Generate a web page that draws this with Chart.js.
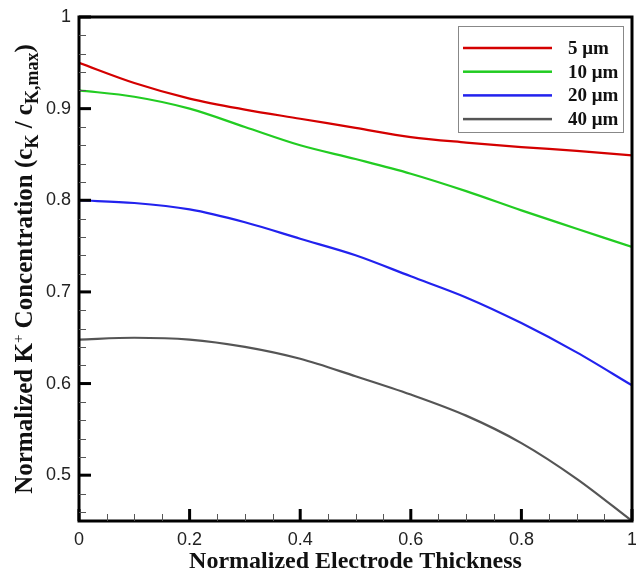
<!DOCTYPE html>
<html>
<head>
<meta charset="utf-8">
<script src="https://cdn.jsdelivr.net/npm/chart.js@4.4.0/dist/chart.umd.min.js"></script>
<style>
body { margin: 0; background: #fff; }
#wrap { width: 636px; height: 573px; }
</style>
</head>
<body>
<div id="wrap"><canvas id="chart" width="636" height="573"></canvas></div>
<script>
// normalized electrode thickness (x) and K+ concentration for each particle size
const thickness = [0, 0.1, 0.2, 0.3, 0.4, 0.5, 0.6, 0.7, 0.8, 0.9, 1];
const conc5um  = [0.950, 0.928, 0.911, 0.899, 0.889, 0.879, 0.869, 0.863, 0.858, 0.854, 0.849];
const conc10um = [0.920, 0.913, 0.900, 0.880, 0.860, 0.845, 0.829, 0.810, 0.789, 0.769, 0.749];
const conc20um = [0.800, 0.797, 0.790, 0.776, 0.758, 0.740, 0.717, 0.694, 0.666, 0.634, 0.598];
const conc40um = [0.648, 0.650, 0.648, 0.640, 0.627, 0.608, 0.588, 0.565, 0.535, 0.496, 0.450];

const seriesLabels = ['5 μm', '10 μm', '20 μm', '40 μm'];
const seriesColors = ['#d40000', '#22cc22', '#2222ee', '#555555'];

const xTickValues = [0, 0.2, 0.4, 0.6, 0.8, 1];
const xTickLabels = ['0', '0.2', '0.4', '0.6', '0.8', '1'];
const yTickValues = [0.5, 0.6, 0.7, 0.8, 0.9, 1];
const yTickLabels = ['0.5', '0.6', '0.7', '0.8', '0.9', '1'];

const xTitle = 'Normalized Electrode Thickness';

function toPoints(values) {
    return thickness.map((t, i) => ({ x: t, y: values[i] }));
}

// Frame, inward ticks, axis titles and legend box
const decorations = {
    id: 'decorations',
    afterDraw(chart) {
        const ctx = chart.ctx;
        const a = chart.chartArea;
        const xs = chart.scales.x;
        const ys = chart.scales.y;
        ctx.save();

        // frame
        ctx.strokeStyle = '#000';
        ctx.lineWidth = 3;
        ctx.strokeRect(a.left, a.top, a.right - a.left, a.bottom - a.top);

        // major ticks, pointing inward
        ctx.fillStyle = '#000';
        xTickValues.forEach(v => {
            const px = xs.getPixelForValue(v);
            ctx.fillRect(px - 1.5, a.bottom - 12, 3, 12);
        });
        yTickValues.forEach(v => {
            const py = ys.getPixelForValue(v);
            ctx.fillRect(a.left, py - 1.5, 12, 3);
        });

        // minor ticks
        ctx.fillStyle = '#555';
        for (let i = 1; i < 20; i++) {
            if (i % 4 === 0) continue;
            const px = Math.round(xs.getPixelForValue(i * 0.05));
            ctx.fillRect(px, a.bottom - 7, 1, 7);
        }
        for (let i = 23; i < 50; i++) {
            if (i % 5 === 0) continue;
            const py = Math.round(ys.getPixelForValue(i * 0.02));
            ctx.fillRect(a.left, py, 7, 1);
        }

        // legend
        const boxW = 165, boxH = 106;
        const bx = a.right - 9 - boxW, by = a.top + 9;
        ctx.fillStyle = '#fff';
        ctx.fillRect(bx, by, boxW, boxH);
        ctx.strokeStyle = '#888';
        ctx.lineWidth = 1;
        ctx.strokeRect(bx + 0.5, by + 0.5, boxW, boxH);
        ctx.font = 'bold 19px "Liberation Serif", "Times New Roman", serif';
        ctx.textBaseline = 'middle';
        ctx.textAlign = 'left';
        chart.data.datasets.forEach((ds, i) => {
            const ry = by + 22 + i * 23.7;
            ctx.fillStyle = ds.borderColor;
            ctx.fillRect(bx + 5, ry - 1.25, 89, 2.5);
            ctx.fillStyle = '#111';
            ctx.fillText(ds.label, bx + 110, ry + 1);
        });

        // x axis title
        ctx.fillStyle = '#111';
        ctx.font = 'bold 24px "Liberation Serif", "Times New Roman", serif';
        ctx.textAlign = 'center';
        ctx.textBaseline = 'alphabetic';
        ctx.fillText(xTitle, (a.left + a.right) / 2, 568);

        // y axis title with sub/superscripts
        const main = 'bold 25px "Liberation Serif", "Times New Roman", serif';
        const sub = 'bold 18px "Liberation Serif", "Times New Roman", serif';
        const sup = '15px "Liberation Serif", "Times New Roman", serif';
        const parts = [
            { t: 'Normalized K', f: main, dy: 0 },
            { t: '+', f: sup, dy: -9 },
            { t: ' Concentration (c', f: main, dy: 0 },
            { t: 'K', f: sub, dy: 6 },
            { t: ' / c', f: main, dy: 0 },
            { t: 'K,max', f: sub, dy: 6 },
            { t: ')', f: main, dy: 0 }
        ];
        let total = 0;
        parts.forEach(p => { ctx.font = p.f; p.w = ctx.measureText(p.t).width; total += p.w; });
        ctx.translate(32, (a.top + a.bottom) / 2);
        ctx.rotate(-Math.PI / 2);
        ctx.textAlign = 'left';
        let cx = -total / 2;
        parts.forEach(p => {
            ctx.font = p.f;
            ctx.fillText(p.t, cx, p.dy);
            cx += p.w;
        });

        ctx.restore();
    }
};

new Chart(document.getElementById('chart'), {
    type: 'line',
    data: {
        datasets: [conc5um, conc10um, conc20um, conc40um].map((vals, i) => ({
            label: seriesLabels[i],
            data: toPoints(vals),
            borderColor: seriesColors[i],
            backgroundColor: seriesColors[i],
            borderWidth: 2.2,
            pointRadius: 0,
            cubicInterpolationMode: 'monotone',
            fill: false
        }))
    },
    options: {
        responsive: false,
        animation: false,
        layout: { padding: { top: 17, right: 4, left: 0, bottom: 0 } },
        plugins: {
            legend: { display: false },
            tooltip: { enabled: false }
        },
        scales: {
            x: {
                type: 'linear',
                min: 0,
                max: 1,
                afterBuildTicks: s => { s.ticks = xTickValues.map(v => ({ value: v })); },
                afterFit: s => { s.height = 52; s.paddingLeft = 0; s.paddingRight = 0; },
                grid: { display: false, drawTicks: false },
                border: { display: false },
                ticks: {
                    padding: 8,
                    color: '#222',
                    font: { family: '"Liberation Sans", Arial, sans-serif', size: 18 },
                    maxRotation: 0,
                    callback: (v) => xTickLabels[xTickValues.indexOf(v)]
                }
            },
            y: {
                type: 'linear',
                min: 0.45,
                max: 1,
                afterBuildTicks: s => { s.ticks = yTickValues.map(v => ({ value: v })); },
                afterFit: s => { s.width = 79; s.paddingTop = 0; s.paddingBottom = 0; },
                grid: { display: false, drawTicks: false },
                border: { display: false },
                ticks: {
                    padding: 8,
                    color: '#222',
                    font: { family: '"Liberation Sans", Arial, sans-serif', size: 18 },
                    callback: (v) => yTickLabels[yTickValues.indexOf(v)]
                }
            }
        }
    },
    plugins: [decorations]
});
</script>
</body>
</html>
